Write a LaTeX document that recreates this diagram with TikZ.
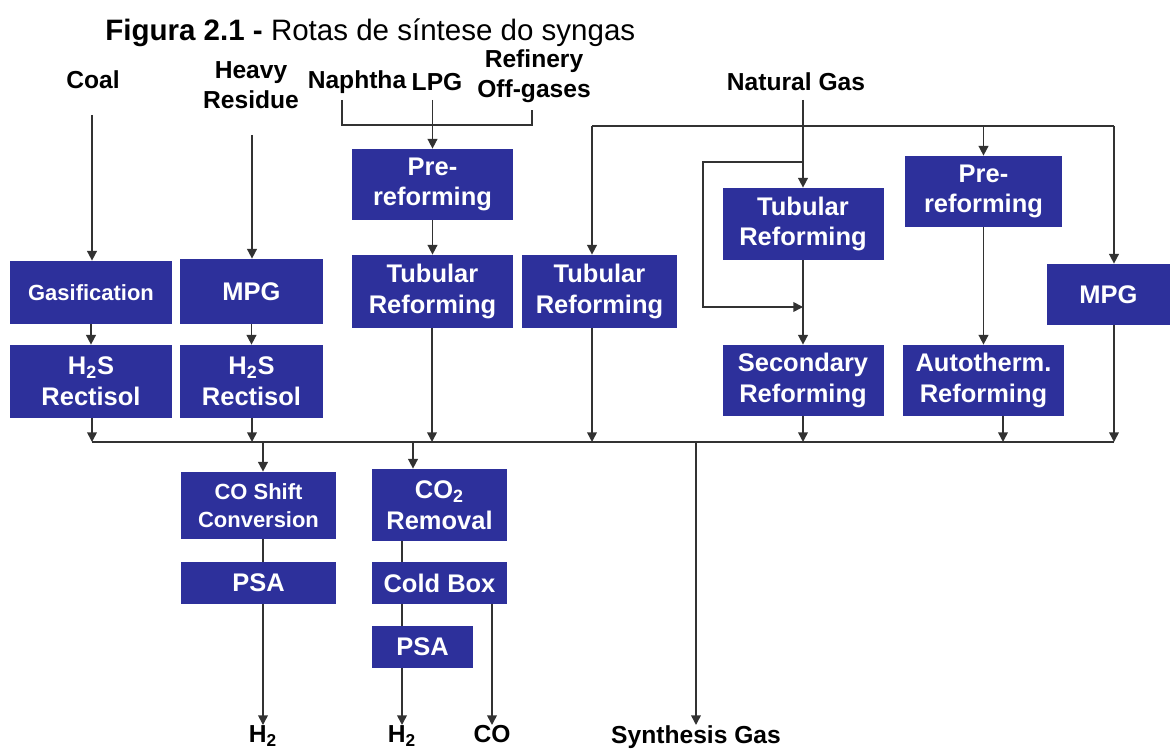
\documentclass[tikz,border=0pt]{standalone}
\usepackage{fontspec}
\setmainfont{Liberation Sans}
\usetikzlibrary{arrows.meta}

\definecolor{procblue}{RGB}{45,48,155}
\definecolor{flowgray}{RGB}{50,50,50}

\tikzset{
  blk/.style={fill=procblue,text=white,font=\bfseries\fontsize{14.5}{17.5}\selectfont,
    align=center,inner sep=0pt},
  small/.style={font=\bfseries\fontsize{12.5}{16}\selectfont},
  sz/.style 2 args={minimum width=#1*0.02cm,minimum height=#2*0.02cm},
  lbl/.style={font=\bfseries\fontsize{14}{17}\selectfont,align=center,inner sep=0pt},
  flow/.style={draw=flowgray,line width=0.9pt},
  arr/.style={-{Triangle[length=5.5pt,width=5.5pt]}}
}

\begin{document}
\begin{tikzpicture}[x=0.02cm,y=-0.02cm]
  \useasboundingbox (0,0) rectangle (1170,749);

  \node[anchor=west,inner sep=0pt,font=\fontsize{16.8}{19}\selectfont] (title) at (105,33)
    {\textbf{Figura 2.1 -} Rotas de síntese do syngas};

  % feedstocks
  \node[lbl] (coal) at (93,80) {Coal};
  \node[lbl] (heavy) at (251,85) {Heavy\\Residue};
  \node[lbl] (naph) at (357,82) {Naphtha};
  \node[lbl] (lpg) at (437,82) {LPG};
  \node[lbl] (refin) at (534,76) {Refinery\\Off-gases};
  \node[lbl] (ng) at (796,82) {Natural Gas};

  % process units
  \node[blk,small,sz={162}{63}] (gas) at (91,292.5) {Gasification};
  \node[blk,sz={143}{65}] (mpgA) at (251.5,291.5) {MPG};
  \node[blk,sz={162}{73}] (rect1) at (91,381.5) {H\textsubscript{2}S\\Rectisol};
  \node[blk,sz={143}{73}] (rect2) at (251.5,381.5) {H\textsubscript{2}S\\Rectisol};
  \node[blk,sz={161}{71}] (pre1) at (432.5,184.5) {Pre-\\reforming};
  \node[blk,sz={161}{73}] (tub1) at (432.5,291.5) {Tubular\\Reforming};
  \node[blk,sz={155}{73}] (tub2) at (599.5,291.5) {Tubular\\Reforming};
  \node[blk,sz={161}{72}] (tub3) at (803,224) {Tubular\\Reforming};
  \node[blk,sz={161}{71}] (sec) at (803,380.5) {Secondary\\Reforming};
  \node[blk,sz={157}{71}] (pre2) at (983.5,191.5) {Pre-\\reforming};
  \node[blk,sz={161}{71}] (atr) at (983.5,380.5) {Autotherm.\\Reforming};
  \node[blk,sz={123}{61}] (mpgB) at (1108.5,294.5) {MPG};
  \node[blk,small,sz={155}{67}] (shift) at (258.5,505.5) {CO Shift\\Conversion};
  \node[blk,sz={155}{42}] (psa1) at (258.5,583) {PSA};
  \node[blk,sz={135}{72}] (co2) at (439.5,505) {CO\textsubscript{2}\\Removal};
  \node[blk,sz={135}{42}] (cold) at (439.5,583) {Cold Box};
  \node[blk,sz={101}{42}] (psa2) at (422.5,647) {PSA};

  % products
  \node[lbl,anchor=north] (h2a) at (263,725) {H\textsubscript{2}};
  \node[lbl,anchor=north] (h2b) at (402,725) {H\textsubscript{2}};
  \node[lbl,anchor=north] (co) at (492,725) {CO};
  \node[lbl,anchor=north] (syn) at (696,725) {Synthesis Gas};

  % feed lines
  \coordinate (coalin) at (92,115);
  \coordinate (heavyin) at (252,135);
  \coordinate (brL) at (342,100);
  \coordinate (brR) at (532,110);
  \coordinate (lpgin) at (432.5,100);
  \coordinate (ngin) at (803,100);
  \draw[flow,arr] (coalin) -- (coalin |- gas.north);
  \draw[flow,arr] (heavyin) -- (heavyin |- mpgA.north);
  \draw[flow] (brL) -- ++(0,25) -| (brR);
  \draw[flow,arr] (lpgin) -- (pre1.north);
  \draw[flow,arr] (ngin) -- (tub3.north);

  % natural gas distribution
  \coordinate (distL) at (592,126);
  \coordinate (distM) at (983.5,126);
  \coordinate (distR) at (1114,126);
  \draw[flow] (distL) -- (distR);
  \draw[flow,arr] (distL) -- (distL |- tub2.north);
  \draw[flow,arr] (distM) -- (pre2.north);
  \draw[flow,arr] (distR) -- (distR |- mpgB.north);
  \coordinate (byA) at (803,162);
  \coordinate (byB) at (803,307);
  \draw[flow,arr] (byA) -- ++(-100,0) |- (byB);

  \foreach \from/\to in {gas/rect1, mpgA/rect2, pre1/tub1, tub3/sec, pre2/atr}
    \draw[flow,arr] (\from) -- (\to);

  % collector
  \foreach \x in {92,252,263,413,432,592,696,803,1003,1114}
    \coordinate (b\x) at (\x,442);
  \draw[flow] (b92) -- (b1114);
  \foreach \n/\x in {rect1/92, rect2/252, tub1/432, tub2/592, sec/803, atr/1003, mpgB/1114}
    \draw[flow,arr] (\n.south -| b\x) -- (b\x);

  % product lines
  \draw[flow,arr] (b263) -- (b263 |- shift.north);
  \draw[flow,arr] (b413) -- (b413 |- co2.north);
  \draw[flow,arr] (b696) -- (syn.north);
  \draw[flow] (shift.south -| h2a) -- (psa1.north -| h2a);
  \draw[flow,arr] (psa1.south -| h2a) -- (h2a.north);
  \draw[flow] (co2.south -| h2b) -- (cold.north -| h2b);
  \draw[flow] (cold.south -| h2b) -- (psa2.north -| h2b);
  \draw[flow,arr] (psa2.south -| h2b) -- (h2b.north);
  \draw[flow,arr] (cold.south -| co) -- (co.north);
\end{tikzpicture}
\end{document}
